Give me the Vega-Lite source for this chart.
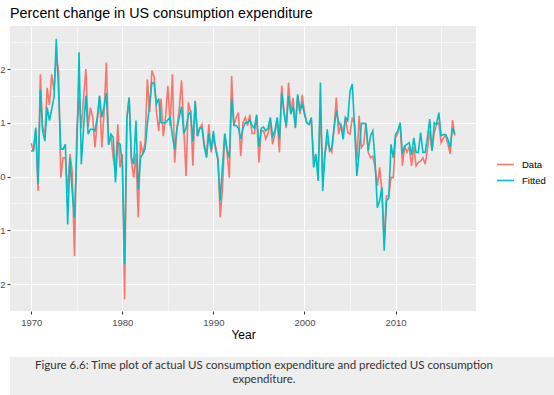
{
  "$schema": "https://vega.github.io/schema/vega-lite/v6.json",
  "padding": {"left": -4, "top": 6, "right": 0, "bottom": 0},
  "spacing": 16,
  "background": "white",
  "config": {
    "font": "Liberation Sans",
    "view": {"stroke": null}
  },
  "datasets": {
    "series": [
      {"t":1970,"Data":0.62,"Fitted":0.47},{"t":1970.25,"Data":0.46,"Fitted":0.50},{"t":1970.5,"Data":0.88,"Fitted":0.91},{"t":1970.75,"Data":-0.27,"Fitted":-0.14},
      {"t":1971,"Data":1.90,"Fitted":1.62},{"t":1971.25,"Data":0.91,"Fitted":0.85},{"t":1971.5,"Data":0.79,"Fitted":0.66},{"t":1971.75,"Data":1.65,"Fitted":1.28},
      {"t":1972,"Data":1.33,"Fitted":1.04},{"t":1972.25,"Data":1.90,"Fitted":1.25},{"t":1972.5,"Data":1.60,"Fitted":1.47},{"t":1972.75,"Data":2.20,"Fitted":2.56},
      {"t":1973,"Data":1.97,"Fitted":1.60},{"t":1973.25,"Data":-0.02,"Fitted":0.51},{"t":1973.5,"Data":0.35,"Fitted":0.51},{"t":1973.75,"Data":0.35,"Fitted":0.60},
      {"t":1974,"Data":-0.30,"Fitted":-0.89},{"t":1974.25,"Data":0.42,"Fitted":0.35},{"t":1974.5,"Data":0.10,"Fitted":-0.27},{"t":1974.75,"Data":-1.48,"Fitted":-0.76},
      {"t":1975,"Data":0.85,"Fitted":0.40},{"t":1975.25,"Data":1.47,"Fitted":2.31},{"t":1975.5,"Data":0.90,"Fitted":0.23},{"t":1975.75,"Data":1.47,"Fitted":0.91},
      {"t":1976,"Data":2.00,"Fitted":1.50},{"t":1976.25,"Data":0.91,"Fitted":0.79},{"t":1976.5,"Data":1.28,"Fitted":0.88},{"t":1976.75,"Data":1.10,"Fitted":0.88},
      {"t":1977,"Data":0.54,"Fitted":0.85},{"t":1977.25,"Data":1.04,"Fitted":1.10},{"t":1977.5,"Data":1.50,"Fitted":1.50},{"t":1977.75,"Data":0.54,"Fitted":1.10},
      {"t":1978,"Data":1.20,"Fitted":1.30},{"t":1978.25,"Data":2.12,"Fitted":1.55},{"t":1978.5,"Data":0.60,"Fitted":0.59},{"t":1978.75,"Data":0.76,"Fitted":0.79},
      {"t":1979,"Data":0.35,"Fitted":0.73},{"t":1979.25,"Data":0.10,"Fitted":-0.11},{"t":1979.5,"Data":0.97,"Fitted":0.63},{"t":1979.75,"Data":0.17,"Fitted":0.60},
      {"t":1980,"Data":0.42,"Fitted":0.23},{"t":1980.25,"Data":-2.28,"Fitted":-1.63},{"t":1980.5,"Data":1.10,"Fitted":1.07},{"t":1980.75,"Data":1.47,"Fitted":1.47},
      {"t":1981,"Data":0.29,"Fitted":0.35},{"t":1981.25,"Data":-0.02,"Fitted":0.23},{"t":1981.5,"Data":0.42,"Fitted":1.04},{"t":1981.75,"Data":-0.76,"Fitted":-0.24},
      {"t":1982,"Data":0.66,"Fitted":0.35},{"t":1982.25,"Data":0.42,"Fitted":0.42},{"t":1982.5,"Data":0.63,"Fitted":0.51},{"t":1982.75,"Data":1.81,"Fitted":0.97},
      {"t":1983,"Data":1.20,"Fitted":1.35},{"t":1983.25,"Data":1.97,"Fitted":1.75},{"t":1983.5,"Data":1.85,"Fitted":1.73},{"t":1983.75,"Data":1.20,"Fitted":1.35},
      {"t":1984,"Data":0.85,"Fitted":1.45},{"t":1984.25,"Data":1.45,"Fitted":1.00},{"t":1984.5,"Data":0.75,"Fitted":1.00},{"t":1984.75,"Data":1.10,"Fitted":1.00},
      {"t":1985,"Data":1.69,"Fitted":1.05},{"t":1985.25,"Data":0.94,"Fitted":1.10},{"t":1985.5,"Data":1.90,"Fitted":0.75},{"t":1985.75,"Data":0.26,"Fitted":0.50},
      {"t":1986,"Data":0.90,"Fitted":0.90},{"t":1986.25,"Data":1.25,"Fitted":1.10},{"t":1986.5,"Data":1.79,"Fitted":1.30},{"t":1986.75,"Data":0.90,"Fitted":0.80},
      {"t":1987,"Data":0.01,"Fitted":0.90},{"t":1987.25,"Data":1.38,"Fitted":1.15},{"t":1987.5,"Data":1.20,"Fitted":1.20},{"t":1987.75,"Data":0.20,"Fitted":0.65},
      {"t":1988,"Data":1.41,"Fitted":1.40},{"t":1988.25,"Data":0.76,"Fitted":0.75},{"t":1988.5,"Data":0.90,"Fitted":0.90},{"t":1988.75,"Data":0.97,"Fitted":0.90},
      {"t":1989,"Data":0.60,"Fitted":0.55},{"t":1989.25,"Data":0.42,"Fitted":0.35},{"t":1989.5,"Data":0.97,"Fitted":0.80},{"t":1989.75,"Data":0.45,"Fitted":0.50},
      {"t":1990,"Data":0.70,"Fitted":0.85},{"t":1990.25,"Data":0.55,"Fitted":0.50},{"t":1990.5,"Data":0.35,"Fitted":0.30},{"t":1990.75,"Data":-0.76,"Fitted":-0.45},
      {"t":1991,"Data":-0.20,"Fitted":0.20},{"t":1991.25,"Data":0.79,"Fitted":0.80},{"t":1991.5,"Data":0.45,"Fitted":0.50},{"t":1991.75,"Data":-0.02,"Fitted":0.35},
      {"t":1992,"Data":1.87,"Fitted":1.45},{"t":1992.25,"Data":0.95,"Fitted":0.95},{"t":1992.5,"Data":1.10,"Fitted":0.95},{"t":1992.75,"Data":1.19,"Fitted":0.90},
      {"t":1993,"Data":0.38,"Fitted":0.70},{"t":1993.25,"Data":1.00,"Fitted":0.90},{"t":1993.5,"Data":1.10,"Fitted":1.00},{"t":1993.75,"Data":0.95,"Fitted":1.00},
      {"t":1994,"Data":1.15,"Fitted":1.05},{"t":1994.25,"Data":0.80,"Fitted":0.95},{"t":1994.5,"Data":0.80,"Fitted":0.90},{"t":1994.75,"Data":1.13,"Fitted":1.15},
      {"t":1995,"Data":0.26,"Fitted":0.55},{"t":1995.25,"Data":0.85,"Fitted":0.90},{"t":1995.5,"Data":0.85,"Fitted":0.92},{"t":1995.75,"Data":0.70,"Fitted":0.85},
      {"t":1996,"Data":0.80,"Fitted":0.90},{"t":1996.25,"Data":1.00,"Fitted":1.10},{"t":1996.5,"Data":0.60,"Fitted":0.75},{"t":1996.75,"Data":0.80,"Fitted":0.85},
      {"t":1997,"Data":1.05,"Fitted":1.10},{"t":1997.25,"Data":0.45,"Fitted":0.70},{"t":1997.5,"Data":1.69,"Fitted":1.56},{"t":1997.75,"Data":1.20,"Fitted":1.20},
      {"t":1998,"Data":0.90,"Fitted":0.94},{"t":1998.25,"Data":1.75,"Fitted":1.50},{"t":1998.5,"Data":1.20,"Fitted":1.16},{"t":1998.75,"Data":1.46,"Fitted":1.30},
      {"t":1999,"Data":0.90,"Fitted":0.91},{"t":1999.25,"Data":1.50,"Fitted":1.53},{"t":1999.5,"Data":1.16,"Fitted":1.22},{"t":1999.75,"Data":1.52,"Fitted":1.35},
      {"t":2000,"Data":1.20,"Fitted":1.16},{"t":2000.25,"Data":1.00,"Fitted":1.00},{"t":2000.5,"Data":0.97,"Fitted":0.97},{"t":2000.75,"Data":1.05,"Fitted":1.10},
      {"t":2001,"Data":0.38,"Fitted":0.17},{"t":2001.25,"Data":0.32,"Fitted":0.42},{"t":2001.5,"Data":0.17,"Fitted":-0.08},{"t":2001.75,"Data":1.20,"Fitted":1.75},
      {"t":2002,"Data":0.00,"Fitted":-0.27},{"t":2002.25,"Data":0.42,"Fitted":0.42},{"t":2002.5,"Data":0.66,"Fitted":0.88},{"t":2002.75,"Data":0.54,"Fitted":0.48},
      {"t":2003,"Data":0.45,"Fitted":0.54},{"t":2003.25,"Data":0.91,"Fitted":0.91},{"t":2003.5,"Data":1.47,"Fitted":1.22},{"t":2003.75,"Data":0.79,"Fitted":1.00},
      {"t":2004,"Data":0.97,"Fitted":0.94},{"t":2004.25,"Data":0.82,"Fitted":0.69},{"t":2004.5,"Data":1.10,"Fitted":1.10},{"t":2004.75,"Data":0.82,"Fitted":1.04},
      {"t":2005,"Data":0.79,"Fitted":1.59},{"t":2005.25,"Data":1.10,"Fitted":1.72},{"t":2005.5,"Data":0.98,"Fitted":0.91},{"t":2005.75,"Data":0.30,"Fitted":0.01},
      {"t":2006,"Data":1.13,"Fitted":0.45},{"t":2006.25,"Data":0.54,"Fitted":0.99},{"t":2006.5,"Data":0.60,"Fitted":0.99},{"t":2006.75,"Data":1.00,"Fitted":0.97},
      {"t":2007,"Data":0.45,"Fitted":0.48},{"t":2007.25,"Data":0.35,"Fitted":0.76},{"t":2007.5,"Data":0.38,"Fitted":0.85},{"t":2007.75,"Data":0.17,"Fitted":0.29},
      {"t":2008,"Data":-0.17,"Fitted":-0.58},{"t":2008.25,"Data":0.17,"Fitted":-0.45},{"t":2008.5,"Data":-0.27,"Fitted":-0.20},{"t":2008.75,"Data":-1.20,"Fitted":-1.38},
      {"t":2009,"Data":-0.36,"Fitted":-0.45},{"t":2009.25,"Data":-0.36,"Fitted":-0.40},{"t":2009.5,"Data":-0.02,"Fitted":0.60},{"t":2009.75,"Data":-0.02,"Fitted":0.35},
      {"t":2010,"Data":0.73,"Fitted":0.79},{"t":2010.25,"Data":0.80,"Fitted":0.85},{"t":2010.5,"Data":1.00,"Fitted":1.00},{"t":2010.75,"Data":0.20,"Fitted":0.42},
      {"t":2011,"Data":0.57,"Fitted":0.57},{"t":2011.25,"Data":0.45,"Fitted":0.60},{"t":2011.5,"Data":0.55,"Fitted":0.63},{"t":2011.75,"Data":0.20,"Fitted":0.40},
      {"t":2012,"Data":0.55,"Fitted":0.72},{"t":2012.25,"Data":0.20,"Fitted":0.45},{"t":2012.5,"Data":0.26,"Fitted":0.45},{"t":2012.75,"Data":0.29,"Fitted":0.82},
      {"t":2013,"Data":0.35,"Fitted":0.45},{"t":2013.25,"Data":0.23,"Fitted":0.45},{"t":2013.5,"Data":0.51,"Fitted":0.73},{"t":2013.75,"Data":0.85,"Fitted":1.07},
      {"t":2014,"Data":0.48,"Fitted":0.48},{"t":2014.25,"Data":0.82,"Fitted":1.00},{"t":2014.5,"Data":0.97,"Fitted":0.97},{"t":2014.75,"Data":1.00,"Fitted":1.19},
      {"t":2015,"Data":0.63,"Fitted":0.76},{"t":2015.25,"Data":0.72,"Fitted":0.78},{"t":2015.5,"Data":0.76,"Fitted":0.78},{"t":2015.75,"Data":0.60,"Fitted":0.69},
      {"t":2016,"Data":0.42,"Fitted":0.54},{"t":2016.25,"Data":1.05,"Fitted":0.91},{"t":2016.5,"Data":0.76,"Fitted":0.79}
    ],
    "caption": [
      {"line": 1, "text": "Figure 6.6: Time plot of actual US consumption expenditure and predicted US consumption"},
      {"line": 2, "text": "expenditure."}
    ]
  },
  "vconcat": [
    {
      "title": {
        "text": "Percent change in US consumption expenditure",
        "anchor": "start",
        "frame": "group",
        "fontSize": 14.3,
        "fontWeight": "normal",
        "color": "#000000",
        "font": "Liberation Sans",
        "offset": 5
      },
      "width": 466,
      "height": 285,
      "view": {"fill": "#ebebeb", "stroke": null},
      "data": {"name": "series"},
      "transform": [{"fold": ["Data", "Fitted"], "as": ["series", "value"]}],
      "mark": {"type": "line", "strokeWidth": 1.6, "clip": true},
      "encoding": {
        "x": {
          "field": "t",
          "type": "quantitative",
          "title": "Year",
          "scale": {"domain": [1967.67, 2018.83], "nice": false, "zero": false},
          "axis": {
            "values": [1970, 1975, 1980, 1985, 1990, 1995, 2000, 2005, 2010, 2015],
            "format": "d",
            "labelExpr": "datum.value % 10 === 0 ? datum.label : ''",
            "labelOverlap": false,
            "labelFlush": false,
            "domain": false,
            "tickSize": 3,
            "tickColor": "#333333",
            "tickOpacity": {"condition": {"test": "datum.value % 10 !== 0", "value": 0}, "value": 1},
            "gridColor": "#ffffff",
            "gridOpacity": 1,
            "gridWidth": {"condition": {"test": "datum.value % 10 !== 0", "value": 0.55}, "value": 1.1},
            "labelFontSize": 9.5,
            "labelColor": "#4d4d4d",
            "labelPadding": 3,
            "titleFontSize": 12,
            "titleFontWeight": "normal",
            "titleColor": "#000000",
            "titlePadding": 3
          }
        },
        "y": {
          "field": "value",
          "type": "quantitative",
          "title": null,
          "scale": {"domain": [-2.5, 2.8], "nice": false, "zero": false},
          "axis": {
            "values": [-2, -1.5, -1, -0.5, 0, 0.5, 1, 1.5, 2, 2.5],
            "labelExpr": "datum.value % 1 === 0 ? '' + datum.value : ''",
            "labelOverlap": false,
            "labelFlush": false,
            "domain": false,
            "tickSize": 3,
            "tickColor": "#333333",
            "tickOpacity": {"condition": {"test": "datum.value % 1 !== 0", "value": 0}, "value": 1},
            "gridColor": "#ffffff",
            "gridOpacity": 1,
            "gridWidth": {"condition": {"test": "datum.value % 1 !== 0", "value": 0.55}, "value": 1.1},
            "labelFontSize": 9.5,
            "labelColor": "#4d4d4d",
            "labelPadding": 2
          }
        },
        "color": {
          "field": "series",
          "type": "nominal",
          "scale": {"domain": ["Data", "Fitted"], "range": ["#F8766D", "#00BFC4"]},
          "legend": {
            "title": null,
            "orient": "none",
            "legendX": 486,
            "legendY": 129,
            "symbolType": "stroke",
            "symbolSize": 289,
            "symbolStrokeWidth": 1.6,
            "labelFontSize": 9.5,
            "labelColor": "#000000",
            "labelOffset": 7,
            "rowPadding": 2,
            "padding": 0
          }
        }
      }
    },
    {
      "width": 558,
      "height": 43,
      "view": {"fill": "#eeeeee", "stroke": null},
      "data": {"name": "caption"},
      "mark": {"type": "text", "font": "Lato", "fontSize": 11.5, "color": "#333333", "dx": -25, "dy": -5.25},
      "encoding": {
        "y": {"field": "line", "type": "ordinal", "axis": null, "scale": {"padding": 1.093}},
        "text": {"field": "text"}
      }
    }
  ]
}
